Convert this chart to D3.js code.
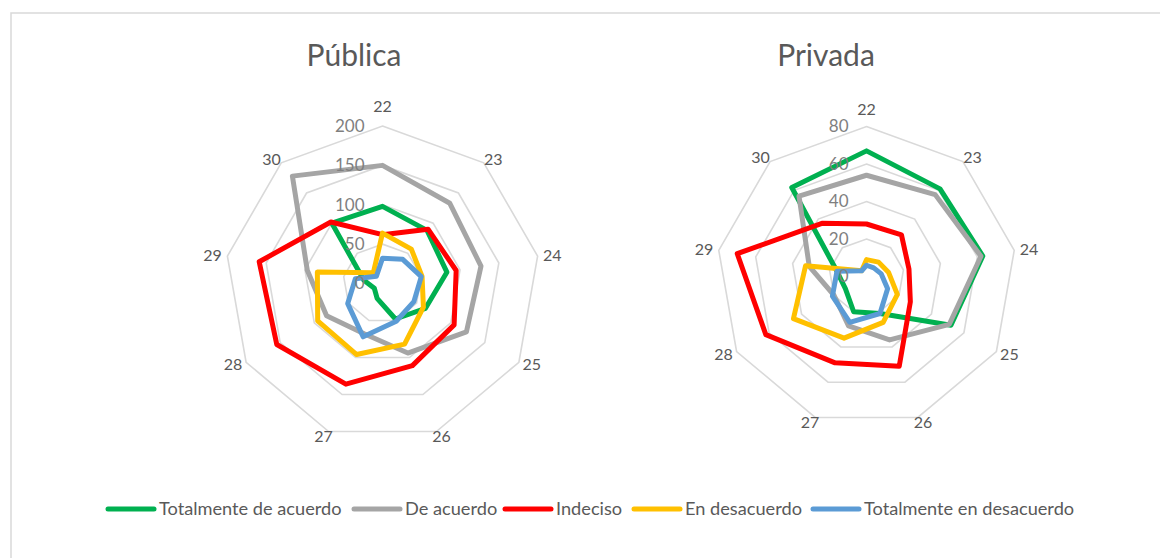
<!DOCTYPE html>
<html>
<head>
<meta charset="utf-8">
<script src="https://cdn.jsdelivr.net/npm/d3@7"></script>
<style>
  body { margin: 0; background: #fff; }
  svg { display: block; font-family: Lato, "Open Sans", sans-serif; }
</style>
</head>
<body>
<div id="chart"></div>
<script>
// categories (items 22..30) and series
const categories = ['22', '23', '24', '25', '26', '27', '28', '29', '30'];
const seriesNames = ['Totalmente de acuerdo', 'De acuerdo', 'Indeciso', 'En desacuerdo', 'Totalmente en desacuerdo'];
const seriesColors = ['#00B050', '#A5A5A5', '#FF0000', '#FFC000', '#5B9BD5'];

// Pública
const publicaTicks = [0, 50, 100, 150, 200];
const publicaTotalAcuerdo = [98, 88, 83, 63, 48, 20, 12, 24, 100];
const publicaAcuerdo = [150, 133, 127, 123, 94, 68, 82, 97, 178];
const publicaIndeciso = [62, 90, 95, 105, 111, 136, 155, 159, 102];
const publicaDesacuerdo = [64, 57, 51, 60, 82, 96, 95, 84, 18];
const publicaTotalDesacuerdo = [32, 40, 50, 46, 51, 72, 51, 35, 12];

// Privada
const privadaTicks = [0, 20, 40, 60, 80];
const privadaTotalAcuerdo = [67, 61, 63, 52, 21, 20, 13, 16, 62];
const privadaAcuerdo = [54, 57, 62, 51, 36, 28, 20, 31, 56];
const privadaIndeciso = [28, 29, 23, 27, 51, 49, 62, 70, 37];
const privadaDesacuerdo = [9, 10, 12, 19, 26, 35, 45, 33, 4];
const privadaTotalDesacuerdo = [6, 6, 8, 13, 21, 26, 21, 16, 4];

const W = 1160, H = 558;
const svg = d3.select('#chart').append('svg')
  .attr('width', W).attr('height', H);

// outer frame (only top and left edges fall inside the picture)
svg.append('rect')
  .attr('x', 11).attr('y', 13).attr('width', W + 20).attr('height', H + 20)
  .attr('fill', 'none').attr('stroke', '#D9D9D9').attr('stroke-width', 1.5);

function radar(opts) {
  const g = svg.append('g').attr('transform', `translate(${opts.cx},${opts.cy})`);
  const r = d3.scaleLinear().domain([0, opts.ticks[opts.ticks.length - 1]]).range([0, opts.R]);
  const a = d3.scaleBand().domain(categories).range([0, 2 * Math.PI]);

  // rings
  const ring = d3.lineRadial().angle(c => a(c)).curve(d3.curveLinearClosed);
  g.selectAll('path.ring')
    .data(opts.ticks.slice(1)).enter().append('path')
    .attr('class', 'ring')
    .attr('d', t => ring.radius(() => r(t))(categories))
    .attr('fill', 'none').attr('stroke', '#D9D9D9').attr('stroke-width', 1.6);

  // series
  const line = d3.lineRadial()
    .angle((d, i) => a(categories[i]))
    .radius(d => r(d))
    .curve(d3.curveLinearClosed);
  g.selectAll('path.serie')
    .data(opts.series).enter().append('path')
    .attr('class', 'serie')
    .attr('d', d => line(d))
    .attr('fill', 'none')
    .attr('stroke', (d, i) => seriesColors[i])
    .attr('stroke-width', 5)
    .attr('stroke-linejoin', 'round');

  // value labels
  g.selectAll('text.tick')
    .data(opts.ticks).enter().append('text')
    .attr('class', 'tick')
    .attr('x', -18).attr('y', t => -r(t))
    .attr('dy', '0.35em')
    .attr('text-anchor', 'end')
    .attr('font-size', 17).attr('fill', '#7F7F7F')
    .text(t => t);

  // category labels
  g.selectAll('text.cat')
    .data(categories).enter().append('text')
    .attr('class', 'cat')
    .attr('x', c => Math.sin(a(c)) * opts.R + Math.sin(a(c)) * 15)
    .attr('y', c => {
      const cy = -Math.cos(a(c));
      return cy * opts.R + (cy < -0.99 ? -opts.topGap : cy * 5);
    })
    .attr('dy', '0.35em')
    .attr('text-anchor', 'middle')
    .attr('font-size', 16).attr('fill', '#595959')
    .text(c => c);

  svg.append('text')
    .attr('x', opts.tx).attr('y', 55).attr('dy', '0.35em')
    .attr('text-anchor', 'middle')
    .attr('font-size', 30).attr('fill', '#595959')
    .text(opts.title);
}

radar({
  title: 'Pública', tx: 354, cx: 382.5, cy: 283.5, R: 157.5, topGap: 20,
  ticks: publicaTicks,
  series: [publicaTotalAcuerdo, publicaAcuerdo, publicaIndeciso, publicaDesacuerdo, publicaTotalDesacuerdo]
});
radar({
  title: 'Privada', tx: 826, cx: 866.5, cy: 276.5, R: 150, topGap: 17,
  ticks: privadaTicks,
  series: [privadaTotalAcuerdo, privadaAcuerdo, privadaIndeciso, privadaDesacuerdo, privadaTotalDesacuerdo]
});

// legend
const legend = svg.append('g').attr('transform', 'translate(0,509)');
const lx = [106, 352, 503, 632, 811];
seriesNames.forEach((name, i) => {
  const item = legend.append('g').attr('transform', `translate(${lx[i]},0)`);
  item.append('line')
    .attr('x1', 2).attr('x2', 48).attr('y1', 0).attr('y2', 0)
    .attr('stroke', seriesColors[i]).attr('stroke-width', 5)
    .attr('stroke-linecap', 'round');
  item.append('text')
    .attr('x', 53).attr('dy', '0.35em')
    .attr('font-size', 18.2).attr('fill', '#595959')
    .text(name);
});
</script>
</body>
</html>
